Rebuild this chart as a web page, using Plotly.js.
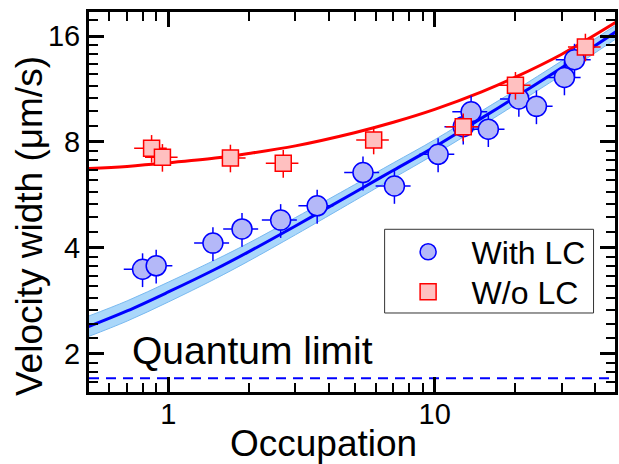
<!DOCTYPE html>
<html>
<head>
<meta charset="utf-8">
<script src="https://cdn.plot.ly/plotly-3.0.1.min.js"></script>
<style>html,body{margin:0;padding:0;background:#fff}#chart{width:619px;height:464px}</style>
</head>
<body>
<div id="chart"></div>
<script>
// With LC (circles)
const withX = [0.80, 0.90, 1.47, 1.89, 2.64, 3.62, 5.38, 7.06, 10.3, 12.8, 13.7, 15.9, 20.7, 24.1, 30.7, 33.5];
const withY = [3.48, 3.56, 4.13, 4.53, 4.80, 5.27, 6.55, 6.00, 7.38, 8.84, 9.75, 8.70, 10.6, 10.1, 12.2, 13.7];
// W/o LC (squares)
const woX = [0.865, 0.95, 1.71, 2.70, 5.90, 12.8, 20.1, 36.8];
const woY = [7.68, 7.24, 7.21, 6.96, 8.11, 8.84, 11.6, 14.9];
// fitted curves
const curveX = [0.5, 0.7, 1, 1.5, 2, 3, 5, 7, 10, 15, 20, 30, 48.5];
const blueCurve = [2.39, 2.65, 3.0, 3.48, 3.9, 4.62, 5.75, 6.65, 7.75, 9.35, 10.7, 13.0, 16.55];
const blueUpper = [2.56, 2.83, 3.2, 3.7, 4.13, 4.88, 6.05, 6.98, 8.12, 9.8, 11.2, 13.6, 17.3];
const blueLower = [2.24, 2.48, 2.81, 3.27, 3.67, 4.36, 5.45, 6.32, 7.38, 8.9, 10.2, 12.4, 15.8];
const redCurve = [6.72, 6.82, 6.98, 7.2, 7.42, 7.8, 8.5, 9.1, 9.9, 11.1, 12.2, 14.2, 17.6];
const quantumLimit = 1.705;
// ticks
const xTickVals = [1, 10];
const xTickText = ['1', '10'];
const xMinor = [0.6, 0.7, 0.8, 0.9, 2, 3, 4, 5, 6, 7, 8, 9, 20, 30, 40];
const yTickVals = [2, 4, 8, 16];
const yTickText = ['2', '4', '8', '16'];
const yMinor = [1.56, 1.67, 1.78, 1.89, 2.22, 2.44, 2.67, 2.89, 3.11, 3.33, 3.56, 3.78,
  4.44, 4.89, 5.33, 5.78, 6.22, 6.67, 7.11, 7.56, 8.89, 9.78, 10.67, 11.56, 12.44, 13.33, 14.22, 15.11, 17.78];

const FONT = 'Liberation Sans, Arial, sans-serif';
const xRange = [-0.298, 1.677];
const yRange = [0.193, 1.2723];

const traces = [
  {x: curveX, y: blueLower, mode: 'lines', line: {color: 'rgb(120,185,240)', width: 1, shape: 'spline'}, showlegend: false, hoverinfo: 'skip'},
  {x: curveX, y: blueUpper, mode: 'lines', fill: 'tonexty', fillcolor: 'rgb(170,215,250)', line: {color: 'rgb(120,185,240)', width: 1, shape: 'spline'}, showlegend: false, hoverinfo: 'skip'},
  {x: curveX, y: blueCurve, mode: 'lines', line: {color: '#0000ff', width: 3, shape: 'spline'}, showlegend: false},
  {x: curveX, y: redCurve, mode: 'lines', line: {color: '#ff0000', width: 3, shape: 'spline'}, showlegend: false},
  {x: [Math.pow(10, xRange[0]), Math.pow(10, xRange[1])], y: [quantumLimit, quantumLimit], mode: 'lines', line: {color: '#0000ff', width: 2, dash: '10px,7px'}, showlegend: false},
  {x: withX, y: withY, mode: 'markers', name: 'With LC', legend: 'legend',
    marker: {symbol: 'circle', size: 20, color: 'rgb(180,184,248)', line: {color: '#0000ff', width: 1.5}},
    error_x: {type: 'percent', value: 15, color: '#0000ff', thickness: 1.5, width: 0},
    error_y: {type: 'percent', value: 11, color: '#0000ff', thickness: 1.5, width: 0}},
  {x: woX, y: woY, mode: 'markers', name: 'W/o LC', legend: 'legend2',
    marker: {symbol: 'square', size: 16, color: 'rgb(255,192,192)', line: {color: '#ff0000', width: 1.5}},
    error_x: {type: 'percent', value: 14, color: '#ff0000', thickness: 1.5, width: 0},
    error_y: {type: 'percent', value: 9, color: '#ff0000', thickness: 1.5, width: 0}}
];

const axisCommon = {
  showline: true, linecolor: '#000', linewidth: 3, mirror: 'ticks',
  ticks: 'inside', ticklen: 15, tickwidth: 3, tickcolor: '#000',
  showgrid: false, zeroline: false, tickmode: 'array',
  tickfont: {family: FONT, size: 29, color: '#000'}
};

const legendCommon = {xanchor: 'left', yanchor: 'middle', bgcolor: 'rgba(0,0,0,0)', borderwidth: 0,
  font: {family: FONT, size: 32, color: '#000'}, itemwidth: 77};

const layout = {
  width: 619, height: 464,
  margin: {l: 89, r: 3.5, t: 12, b: 72},
  paper_bgcolor: '#fff', plot_bgcolor: '#fff',
  font: {family: FONT, color: '#000'},
  showlegend: true,
  legend: Object.assign({}, legendCommon, {x: 0.562, y: 0.3684}),
  legend2: Object.assign({}, legendCommon, {x: 0.562, y: 0.2632}),
  shapes: [
    {type: 'rect', xref: 'paper', yref: 'paper', x0: 0.562, x1: 0.9592, y0: 0.2079, y1: 0.4282,
      line: {color: '#333', width: 1}, fillcolor: '#fff', layer: 'above'}
  ],
  xaxis: Object.assign({}, axisCommon, {type: 'log', range: xRange, tickvals: xTickVals, ticktext: xTickText, ticklabelstandoff: -6,
    minor: {tickmode: 'array', tickvals: xMinor, ticklen: 9, tickwidth: 2, tickcolor: '#000', ticks: 'inside'}}),
  yaxis: Object.assign({}, axisCommon, {type: 'log', range: yRange, tickvals: yTickVals, ticktext: yTickText,
    minor: {tickmode: 'array', tickvals: yMinor, ticklen: 9, tickwidth: 2, tickcolor: '#000', ticks: 'inside'}}),
  annotations: [
    {text: 'Quantum limit', xref: 'paper', yref: 'paper', x: 0.078, y: 0.1105, xanchor: 'left', yanchor: 'middle', showarrow: false,
      font: {family: FONT, size: 39, color: '#000'}},
    {text: 'Occupation', xref: 'paper', yref: 'paper', x: 0.4463, y: -0.135, xanchor: 'center', yanchor: 'middle', showarrow: false,
      font: {family: FONT, size: 37, color: '#000'}},
    {text: 'Velocity width (μm/s)', xref: 'paper', yref: 'paper', x: -0.114, y: 0.4368, xanchor: 'center', yanchor: 'middle', textangle: -90, showarrow: false,
      font: {family: FONT, size: 37, color: '#000'}}
  ]
};

Plotly.newPlot('chart', traces, layout, {displayModeBar: false, staticPlot: true});
</script>
</body>
</html>
